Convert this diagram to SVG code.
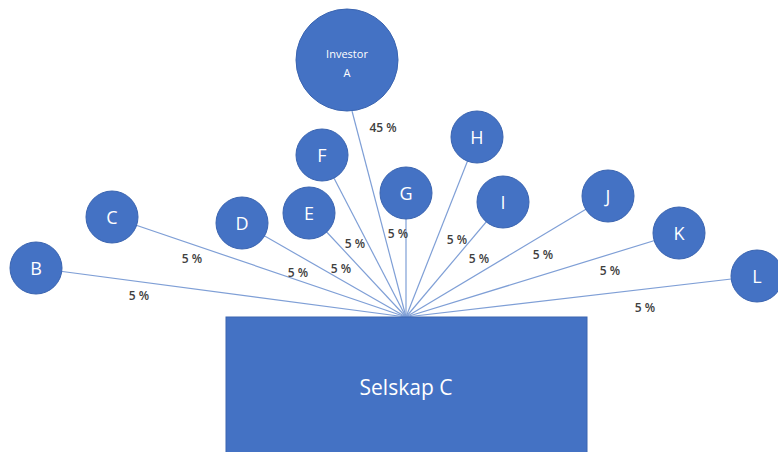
<svg xmlns="http://www.w3.org/2000/svg" width="778" height="452" viewBox="0 0 778 452">
  <style>
    .node { fill: #4472C4; stroke: #3A64B0; stroke-width: 1; }
    .lbl { font-family: "Open Sans", "Liberation Sans", sans-serif; fill: #FFFFFF; text-anchor: middle; dominant-baseline: central; }
    .letter { font-size: 18px; }
    .pct { font-family: "Open Sans", "Liberation Sans", sans-serif; font-size: 12px; font-weight: 600; fill: #404040; text-anchor: middle; dominant-baseline: central; }
    .link { stroke: #7F9FD6; stroke-width: 1.2; fill: none; }
  </style>

  <!-- ownership links, all meeting at the top of the company box -->
  <g id="connectors">
    <line class="link" x1="352" y1="111" x2="406" y2="317"/>
    <line class="link" x1="36" y1="268" x2="406" y2="317"/>
    <line class="link" x1="112" y1="217" x2="406" y2="317"/>
    <line class="link" x1="242" y1="223" x2="406" y2="317"/>
    <line class="link" x1="309" y1="213" x2="406" y2="317"/>
    <line class="link" x1="322" y1="155" x2="406" y2="317"/>
    <line class="link" x1="406" y1="193" x2="406" y2="317"/>
    <line class="link" x1="477" y1="137" x2="406" y2="317"/>
    <line class="link" x1="503" y1="202" x2="406" y2="317"/>
    <line class="link" x1="608" y1="196" x2="406" y2="317"/>
    <line class="link" x1="679" y1="233" x2="406" y2="317"/>
    <line class="link" x1="757" y1="276" x2="406" y2="317"/>
  </g>

  <!-- share percentages -->
  <g id="percentages">
    <text class="pct" x="383" y="127">45 %</text>
    <text class="pct" x="139" y="295">5 %</text>
    <text class="pct" x="192" y="258">5 %</text>
    <text class="pct" x="298" y="272">5 %</text>
    <text class="pct" x="341" y="268">5 %</text>
    <text class="pct" x="355" y="243">5 %</text>
    <text class="pct" x="398" y="233">5 %</text>
    <text class="pct" x="457" y="239">5 %</text>
    <text class="pct" x="479" y="258">5 %</text>
    <text class="pct" x="543" y="254">5 %</text>
    <text class="pct" x="610" y="270">5 %</text>
    <text class="pct" x="645" y="307">5 %</text>
  </g>

  <g id="investor-a">
    <circle class="node" cx="347" cy="60" r="51"/>
    <text class="lbl" x="347" y="53" font-size="11">Investor</text>
    <text class="lbl" x="347" y="72" font-size="11">A</text>
  </g>
  <g id="owner-b"><circle class="node" cx="36" cy="268" r="26"/><text class="lbl letter" x="36" y="268">B</text></g>
  <g id="owner-c"><circle class="node" cx="112" cy="217" r="26"/><text class="lbl letter" x="112" y="217">C</text></g>
  <g id="owner-d"><circle class="node" cx="242" cy="223" r="26"/><text class="lbl letter" x="242" y="223">D</text></g>
  <g id="owner-e"><circle class="node" cx="309" cy="213" r="26"/><text class="lbl letter" x="309" y="213">E</text></g>
  <g id="owner-f"><circle class="node" cx="322" cy="155" r="26"/><text class="lbl letter" x="322" y="155">F</text></g>
  <g id="owner-g"><circle class="node" cx="406" cy="193" r="26"/><text class="lbl letter" x="406" y="193">G</text></g>
  <g id="owner-h"><circle class="node" cx="477" cy="137" r="26"/><text class="lbl letter" x="477" y="137">H</text></g>
  <g id="owner-i"><circle class="node" cx="503" cy="202" r="26"/><text class="lbl letter" x="503" y="202">I</text></g>
  <g id="owner-j"><circle class="node" cx="608" cy="196" r="26"/><text class="lbl letter" x="608" y="196">J</text></g>
  <g id="owner-k"><circle class="node" cx="679" cy="233" r="26"/><text class="lbl letter" x="679" y="233">K</text></g>
  <g id="owner-l"><circle class="node" cx="757" cy="276" r="26"/><text class="lbl letter" x="757" y="276">L</text></g>

  <g id="selskap-c">
    <rect x="226" y="317" width="361" height="140" fill="#4472C4" stroke="#3A64B0" stroke-width="1"/>
    <text class="lbl" x="406" y="387" font-size="21">Selskap C</text>
  </g>
</svg>
